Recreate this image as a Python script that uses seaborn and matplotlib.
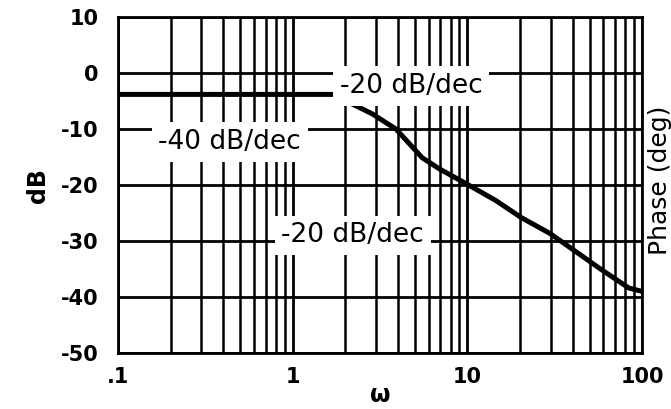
import numpy as np
import matplotlib
matplotlib.use("Agg")
import matplotlib.pyplot as plt
import seaborn as sns
from matplotlib.ticker import LogLocator, FixedLocator

# magnitude curve
omega = [0.1, 0.5, 1.0, 1.75, 2.12, 2.86, 3.9, 5.5, 6.9, 9.9, 14.6, 20.3, 29.5, 38.4, 59, 84, 100]
mag_db = [-3.8, -3.8, -3.8, -3.8, -5.3, -7.3, -10.0, -15.1, -17.1, -19.8, -22.8, -25.8, -28.6, -31.1, -35.2, -38.4, -39.0]

xticks = [0.1, 1, 10, 100]
xtick_labels = [".1", "1", "10", "100"]
yticks = [10, 0, -10, -20, -30, -40, -50]

# slope annotations: text, omega, dB
notes = ["-20 dB/dec", "-40 dB/dec", "-20 dB/dec"]
note_w = [1.86, 0.17, 0.86]
note_db = [-2.3, -12.3, -29.0]

sns.set_style("white")
plt.rcParams['font.family'] = ['DejaVu Sans']
plt.rcParams['text.color'] = 'black'
plt.rcParams['axes.labelcolor'] = 'black'

fig = plt.figure(figsize=(6.71, 4.09), dpi=100)
ax = fig.add_axes([0.176, 0.137, 0.781, 0.821])

sns.lineplot(x=omega, y=mag_db, ax=ax, color="black", lw=3.6, zorder=3)

ax.set_xscale("log")
ax.set_xlim(0.1, 100)
ax.set_ylim(-50, 10)
ax.set_xticks(xticks)
ax.set_xticklabels(xtick_labels)
ax.xaxis.set_minor_locator(LogLocator(base=10, subs=np.arange(2, 10)))
ax.yaxis.set_major_locator(FixedLocator(yticks))
ax.set_yticklabels([str(v) for v in yticks])

ax.grid(which="major", color="black", lw=2.0, zorder=1)
ax.grid(which="minor", axis="x", color="black", lw=1.8, zorder=1)
ax.set_axisbelow(True)
for s in ax.spines.values():
    s.set_color("black")
    s.set_linewidth(2.0)

ax.tick_params(which="both", length=0, labelsize=15, colors="black")
ax.tick_params(axis="y", pad=14)
ax.tick_params(axis="x", pad=10)
for lab in ax.get_xticklabels() + ax.get_yticklabels():
    lab.set_fontweight("bold")

ax.set_xlabel("ω", fontsize=17, fontweight="bold", labelpad=-3)
ax.set_ylabel("dB", fontsize=17, fontweight="bold", labelpad=8)

for t, w, d in zip(notes, note_w, note_db):
    ax.text(w, d, t, ha="left", va="center", fontsize=19, zorder=5,
            bbox=dict(boxstyle="square,pad=0.25", fc="white", ec="none"))

fig.text(0.984, 0.56, "Phase (deg)", rotation=90, ha="center", va="center",
         fontsize=18)

fig.savefig("out.png", dpi=100)
